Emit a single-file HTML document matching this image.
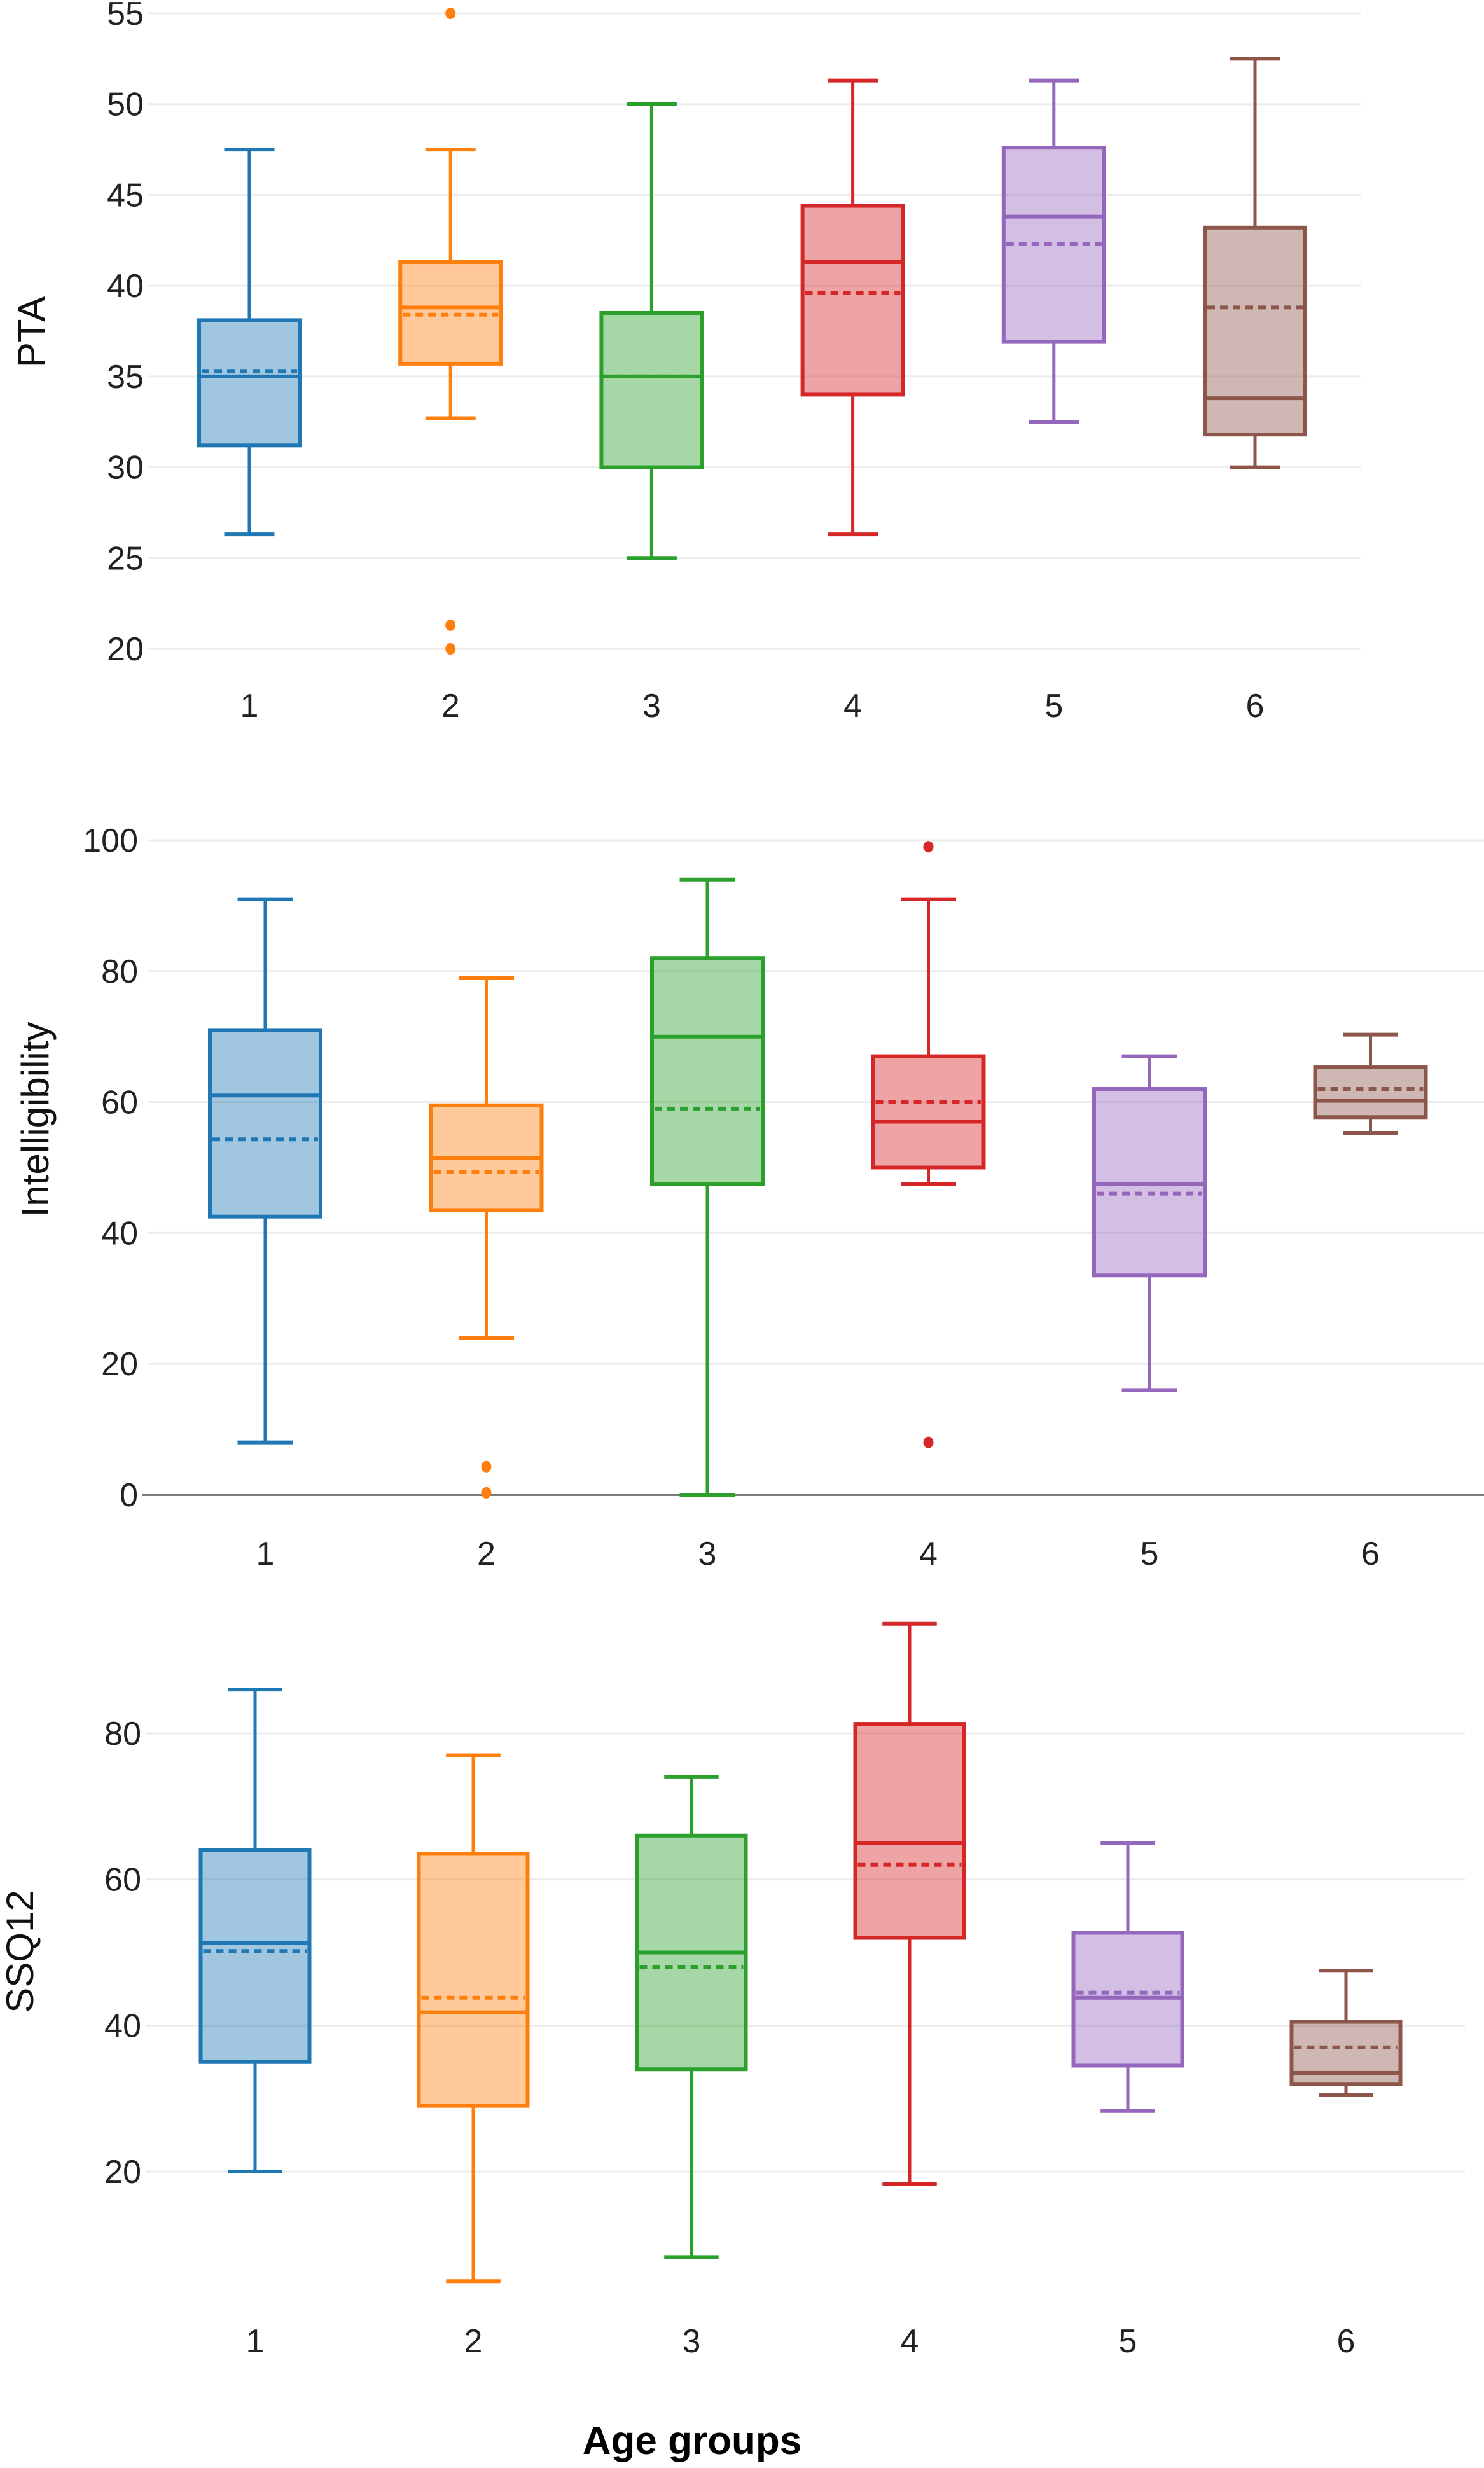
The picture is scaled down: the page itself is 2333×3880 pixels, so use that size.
<!DOCTYPE html>
<html><head><meta charset="utf-8"><style>
html,body{margin:0;padding:0;background:#fff;}
svg{display:block;font-family:"Liberation Sans",Arial,sans-serif;}
</style></head><body>
<svg id="chart" xmlns="http://www.w3.org/2000/svg" width="2333" height="3880" viewBox="0 0 2333 3880"></svg>
<script>
const categories = ["1","2","3","4","5","6"];
const colors = ["#1f77b4","#ff7f0e","#2ca02c","#d62728","#9467bd","#8c564b"];

// PTA
const ptaLow  = [26.3, 32.7, 25, 26.3, 32.5, 30];
const ptaQ1   = [31.2, 35.7, 30, 34, 36.9, 31.8];
const ptaMed  = [35, 38.8, 35, 41.3, 43.8, 33.8];
const ptaQ3   = [38.1, 41.3, 38.5, 44.4, 47.6, 43.2];
const ptaHigh = [47.5, 47.5, 50, 51.3, 51.3, 52.5];
const ptaMean = [35.3, 38.4, 35, 39.6, 42.3, 38.8];
const ptaOut  = [[], [55, 21.3, 20], [], [], [], []];
const ptaTicks = [20,25,30,35,40,45,50,55];

// Intelligibility
const intLow  = [8, 24, 0, 47.5, 16, 55.3];
const intQ1   = [42.5, 43.5, 47.5, 50, 33.5, 57.7];
const intMed  = [61, 51.5, 70, 57, 47.5, 60.2];
const intQ3   = [71, 59.5, 82, 67, 62, 65.3];
const intHigh = [91, 79, 94, 91, 67, 70.3];
const intMean = [54.3, 49.3, 59, 60, 46, 62];
const intOut  = [[], [4.3, 0.3], [], [99, 8], [], []];
const intTicks = [0,20,40,60,80,100];

// SSQ12
const ssqLow  = [20, 5, 8.3, 18.3, 28.3, 30.5];
const ssqQ1   = [35, 29, 34, 52, 34.5, 32];
const ssqMed  = [51.3, 41.8, 50, 65, 43.8, 33.5];
const ssqQ3   = [64, 63.5, 66, 81.3, 52.7, 40.5];
const ssqHigh = [86, 77, 74, 95, 65, 47.5];
const ssqMean = [50.2, 43.8, 48, 62, 44.5, 37];
const ssqOut  = [[], [], [], [], [], []];
const ssqTicks = [20,40,60,80];

const NS = "http://www.w3.org/2000/svg";
const svg = document.getElementById("chart");
function mk(tag, attrs, parent){
  const e = document.createElementNS(NS, tag);
  for (const k in attrs) e.setAttribute(k, attrs[k]);
  (parent||svg).appendChild(e);
  return e;
}

function panel(cfg){
  const g = mk("g", {});
  
  
  const y = v => cfg.yTop + (cfg.vTop - v) * (cfg.yBot - cfg.yTop) / (cfg.vTop - cfg.vBot);
  const x = i => cfg.x0 + i * cfg.step;
  cfg.ticks.forEach(t => {
    const gl = mk("line", {x1: cfg.gx0, x2: cfg.gx1, y1: y(t), y2: y(t), stroke: "#ececec", "stroke-width": 3}, g);
    
    
    const tl = mk("text", {x: cfg.lx, y: y(t) + 18, "text-anchor": "end", "font-size": 52, fill: "#222"}, g);
    tl.textContent = t;
    
    
  });
  if (cfg.zeroLine) {
    const zl = mk("line", {x1: 224, x2: 2333, y1: y(0), y2: y(0), stroke: "#7a7a7a", "stroke-width": 4}, g);
    
    
  }
  const yt = mk("text", {x: cfg.titleX, y: cfg.titleY, "text-anchor": "middle", "font-size": 60, fill: "#111",
    transform: `rotate(-90 ${cfg.titleX} ${cfg.titleY})`}, g);
  yt.textContent = cfg.title;
  
  
  const bw = cfg.bw, cw = cfg.bw * 0.5;
  categories.forEach((c, i) => {
    const cx = x(i), col = colors[i];
    const bg = mk("g", {}, g);
    
    
    const w1 = mk("line", {x1: cx, x2: cx, y1: y(cfg.high[i]), y2: y(cfg.q3[i]), stroke: col, "stroke-width": 5}, bg);
    
    
    const w2 = mk("line", {x1: cx, x2: cx, y1: y(cfg.q1[i]), y2: y(cfg.low[i]), stroke: col, "stroke-width": 5}, bg);
    
    
    const c1 = mk("line", {x1: cx - cw/2, x2: cx + cw/2, y1: y(cfg.high[i]), y2: y(cfg.high[i]), stroke: col, "stroke-width": 6}, bg);
    
    
    const c2 = mk("line", {x1: cx - cw/2, x2: cx + cw/2, y1: y(cfg.low[i]), y2: y(cfg.low[i]), stroke: col, "stroke-width": 6}, bg);
    
    
    const r = mk("rect", {x: cx - bw/2, y: y(cfg.q3[i]), width: bw, height: y(cfg.q1[i]) - y(cfg.q3[i]),
      fill: col, "fill-opacity": 0.42, stroke: col, "stroke-width": 6}, bg);
    
    
    const md = mk("line", {x1: cx - bw/2, x2: cx + bw/2, y1: y(cfg.med[i]), y2: y(cfg.med[i]), stroke: col, "stroke-width": 6}, bg);
    
    
    const mn = mk("line", {x1: cx - bw/2 + 4, x2: cx + bw/2 - 4, y1: y(cfg.mean[i]), y2: y(cfg.mean[i]), stroke: col, "stroke-width": 6, "stroke-dasharray": "12 8"}, bg);
    
    
    cfg.out[i].forEach(v => {
      const o = mk("ellipse", {cx: cx, cy: y(v), rx: 8, ry: 9, fill: col}, bg);
      
      
    });
    const xl = mk("text", {x: cx, y: cfg.xLabelY, "text-anchor": "middle", "font-size": 52, fill: "#222"}, g);
    xl.textContent = c;
    
    
  });
}

panel({name: "pta", title: "PTA", ticks: ptaTicks, vTop: 55, vBot: 20, yTop: 21, yBot: 1020,
  x0: 392, step: 316.2, bw: 158, gx0: 233, gx1: 2140, lx: 226, titleX: 70, titleY: 522, xLabelY: 1127,
  low: ptaLow, q1: ptaQ1, med: ptaMed, q3: ptaQ3, high: ptaHigh, mean: ptaMean, out: ptaOut});

panel({name: "intelligibility", title: "Intelligibility", ticks: intTicks, vTop: 100, vBot: 0, yTop: 1321, yBot: 2350,
  x0: 417, step: 347.5, bw: 174, gx0: 232, gx1: 2333, lx: 217, titleX: 76, titleY: 1760, xLabelY: 2460, zeroLine: true,
  low: intLow, q1: intQ1, med: intMed, q3: intQ3, high: intHigh, mean: intMean, out: intOut});

panel({name: "ssq12", title: "SSQ12", ticks: ssqTicks, vTop: 80, vBot: 20, yTop: 2725, yBot: 3414,
  x0: 401, step: 343, bw: 171, gx0: 229, gx1: 2303, lx: 222, titleX: 52, titleY: 3068, xLabelY: 3698,
  low: ssqLow, q1: ssqQ1, med: ssqMed, q3: ssqQ3, high: ssqHigh, mean: ssqMean, out: ssqOut});

const xt = mk("text", {x: 1088, y: 3858, "text-anchor": "middle", "font-size": 62, "font-weight": "bold", fill: "#000"});
xt.textContent = "Age groups";


</script>
</body></html>
